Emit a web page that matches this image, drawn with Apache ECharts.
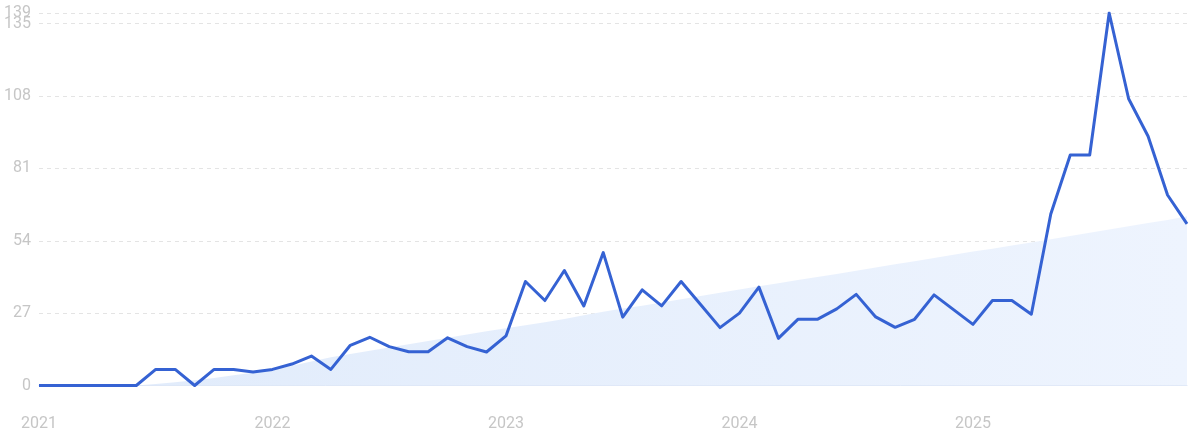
<!DOCTYPE html>
<html>
<head>
<meta charset="utf-8">
<script src="https://cdn.jsdelivr.net/npm/echarts@6/dist/echarts.min.js"></script>
<style>
  html, body { margin: 0; padding: 0; background: #ffffff; }
  #chart { width: 1200px; height: 447px; }
</style>
</head>
<body>
<div id="chart"></div>
<script>
// monthly points, Jan 2021 .. Dec 2025
var months = [
    '2021-01', '2021-02', '2021-03', '2021-04', '2021-05', '2021-06',
    '2021-07', '2021-08', '2021-09', '2021-10', '2021-11', '2021-12',
    '2022-01', '2022-02', '2022-03', '2022-04', '2022-05', '2022-06',
    '2022-07', '2022-08', '2022-09', '2022-10', '2022-11', '2022-12',
    '2023-01', '2023-02', '2023-03', '2023-04', '2023-05', '2023-06',
    '2023-07', '2023-08', '2023-09', '2023-10', '2023-11', '2023-12',
    '2024-01', '2024-02', '2024-03', '2024-04', '2024-05', '2024-06',
    '2024-07', '2024-08', '2024-09', '2024-10', '2024-11', '2024-12',
    '2025-01', '2025-02', '2025-03', '2025-04', '2025-05', '2025-06',
    '2025-07', '2025-08', '2025-09', '2025-10', '2025-11', '2025-12'
];

var searches = [
    0, 0, 0, 0, 0, 0, 6, 6, 0, 6, 6, 5,
    6, 8, 11, 6, 15, 18, 14.5, 12.6, 12.6, 17.8, 14.5, 12.5,
    18.5, 38.8, 31.7, 42.9, 29.7, 49.6, 25.5, 35.7, 29.7, 38.8, 30.2, 21.6,
    27, 36.7, 17.6, 24.7, 24.7, 28.6, 34, 25.6, 21.7, 24.7, 33.8, 28.3,
    22.8, 31.7, 31.7, 26.6, 64, 86, 86, 139, 107, 93, 71.1, 60.3
];

var trend = [
    0, 0, 0, 0, 0, 0, 0.6, 1.2, 2, 2.8, 3.8, 4.8,
    6, 7.4, 9, 10.5, 11.8, 13, 14.2, 15.4, 16.6, 17.8, 19, 20.2,
    21.4, 22.5, 23.6, 24.8, 26.2, 27.5, 28.7, 29.8, 31, 32.2, 33.4, 34.6,
    35.8, 37, 38.2, 39.4, 40.5, 41.6, 42.8, 44, 45.2, 46.4, 47.6, 48.8,
    50, 51, 52.2, 53.4, 54.6, 55.8, 57, 58.2, 59.4, 60.6, 61.8, 63.2
];

var yTicks = [0, 27, 54, 81, 108, 135];
var yMaxTick = [139];
var yMax = 139;
var yStep = 27;

var chart = echarts.init(document.getElementById('chart'), null, { renderer: 'canvas' });

var labelFont = {
    color: '#c6c6c6',
    fontSize: 16,
    fontFamily: 'Roboto'
};

var option = {
    backgroundColor: '#ffffff',
    animation: false,
    grid: { left: 39, right: 13, top: 13, bottom: 61.5 },
    xAxis: {
        type: 'category',
        data: months,
        boundaryGap: false,
        axisLine: { show: true, lineStyle: { color: '#dde6f6', width: 1 } },
        axisTick: { show: false },
        splitLine: { show: false },
        axisLabel: Object.assign({
            margin: 30,
            interval: function (idx, value) {
                return value.slice(5) === '01';
            },
            formatter: function (value) {
                return value.slice(0, 4);
            }
        }, labelFont)
    },
    yAxis: [
        {
            type: 'value',
            min: 0,
            max: yMax,
            interval: yStep,
            axisLine: { show: false },
            axisTick: { show: false },
            axisLabel: Object.assign({
                margin: 8,
                customValues: yTicks,
                hideOverlap: false
            }, labelFont),
            splitLine: {
                show: true,
                lineStyle: { color: '#e4e4e4', type: [4, 4], width: 1 }
            }
        },
        {
            // second axis only carries the top (max) label, which overlaps 135
            type: 'value',
            position: 'left',
            min: 0,
            max: yMax,
            interval: yStep,
            axisLine: { show: false },
            axisTick: { show: false },
            splitLine: { show: false },
            axisLabel: Object.assign({
                margin: 8,
                customValues: yMaxTick,
                hideOverlap: false
            }, labelFont)
        }
    ],
    series: [
        {
            name: 'trend',
            type: 'line',
            data: trend,
            symbol: 'none',
            silent: true,
            z: 1,
            lineStyle: { width: 0 },
            areaStyle: {
                opacity: 1,
                color: {
                    type: 'linear', x: 0, y: 0, x2: 1, y2: 0,
                    colorStops: [
                        { offset: 0, color: '#e0ebfb' },
                        { offset: 1, color: '#eef4fe' }
                    ]
                }
            }
        },
        {
            name: 'searches',
            type: 'line',
            data: searches,
            symbol: 'none',
            z: 3,
            lineStyle: { color: '#3562d3', width: 3, join: 'round' }
        }
    ]
};

chart.setOption(option);

window.addEventListener('resize', function () {
    chart.resize();
});
</script>
</body>
</html>
